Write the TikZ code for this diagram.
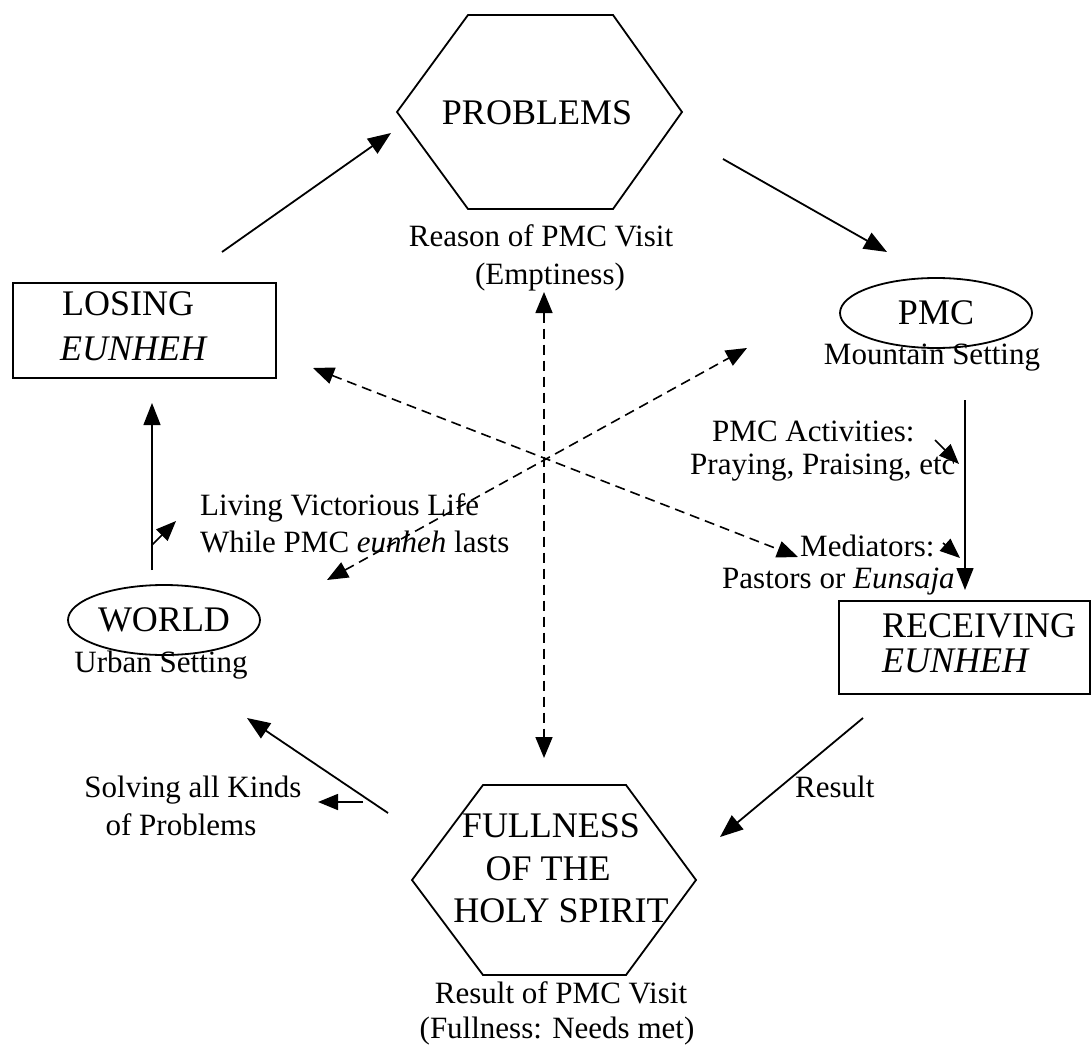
\documentclass[tikz,border=0pt]{standalone}
\usepackage{fontspec}
\setmainfont{Liberation Serif}
\usetikzlibrary{arrows.meta,shapes.geometric}
\begin{document}
\begin{tikzpicture}[x=1pt,y=-1pt,
  big/.style={font=\fontsize{36}{40}\selectfont, inner sep=0pt},
  small/.style={font=\fontsize{31}{35}\selectfont, inner sep=0pt},
  shapeline/.style={line width=1.8pt, line join=miter},
  conn/.style={line width=1.8pt, -{Triangle[length=23pt,width=18pt]}},
  thinconn/.style={line width=1.3pt, -{Triangle[length=22pt,width=17pt]}},
  shortconn/.style={line width=1.6pt, -{Triangle[length=20pt,width=16pt]}},
  dconn/.style={line width=1.6pt, dash pattern=on 10pt off 6pt,
    {Triangle[length=21pt,width=17pt]}-{Triangle[length=21pt,width=17pt]}},
]
\fill[white] (0,0) rectangle (1091,1048);
\useasboundingbox (0,0) rectangle (1091,1048);

% ---- PROBLEMS hexagon
\draw[shapeline] (397,112) -- (468,15) -- (613,15) -- (682,112) -- (613,209) -- (468,209) -- cycle;
\node[big, anchor=base] (problems) at (537,125) {PROBLEMS};
\node[small, anchor=base] (reason1) at (541,247) {Reason of PMC Visit};
\node[small, anchor=base] (reason2) at (550,284) {(Emptiness)};

% ---- FULLNESS hexagon
\draw[shapeline] (412,880) -- (483,785) -- (626,785) -- (696,880) -- (626,975) -- (483,975) -- cycle;
\node[big, anchor=base] (full1) at (551,837) {FULLNESS};
\node[big, anchor=base] (full2) at (548,880) {OF THE};
\node[big, anchor=base] (full3) at (561,922) {HOLY SPIRIT};
\node[small, anchor=base] (result1) at (561,1003) {Result of PMC Visit};
\node[small, anchor=base] (result2) at (557,1038) {(Fullness: Needs met)};

% ---- PMC ellipse
\node[draw, ellipse, shapeline, minimum width=192pt, minimum height=70pt, inner sep=0pt,
  font=\fontsize{36}{40}\selectfont] (pmc) at (936,313) {PMC};
\node[small, anchor=base] (mountain) at (932,364) {Mountain Setting};

% ---- WORLD ellipse
\node[draw, ellipse, shapeline, minimum width=192pt, minimum height=70pt, inner sep=0pt,
  font=\fontsize{36}{40}\selectfont] (world) at (164,620) {WORLD};
\node[small, anchor=base] (urban) at (161,672) {Urban Setting};

% ---- LOSING box
\node[draw, shapeline, minimum width=263pt, minimum height=95pt, inner sep=0pt,
  anchor=north west] (losing) at (12,282) {};
\node[big, anchor=base west] (losing1) at (62,316) {LOSING};
\node[big, anchor=base west] (losing2) at (60,360) {\itshape EUNHEH};

% ---- RECEIVING box
\node[draw, shapeline, minimum width=251pt, minimum height=93pt, inner sep=0pt,
  anchor=north west] (receiving) at (838,600) {};
\node[big, anchor=base west] (receiving1) at (882,637) {RECEIVING};
\node[big, anchor=base west] (receiving2) at (882,672) {\itshape EUNHEH};

% ---- side labels
\node[small, anchor=base west] (act1) at (712,441) {PMC Activities:};
\node[small, anchor=base west] (act2) at (690,474) {Praying, Praising, etc};
\node[small, anchor=base west] (med1) at (800,556) {Mediators:};
\node[small, anchor=base west] (med2) at (722,588) {Pastors or \textit{Eunsaja}};
\node[small, anchor=base west] (reslabel) at (795,797) {Result};
\node[small, anchor=base west] (living1) at (200,515) {Living Victorious Life};
\node[small, anchor=base west] (living2) at (200,552) {While PMC \textit{eunheh} lasts};
\node[small, anchor=base] (solving1) at (193,797) {Solving all Kinds};
\node[small, anchor=base] (solving2) at (181,835) {of Problems};

% ---- connector end points
\coordinate (lpA) at (222,252);  \coordinate (lpB) at (391,133);
\coordinate (ppA) at (723,159);  \coordinate (ppB) at (887,252);
\coordinate (prA) at (965,400);  \coordinate (prB) at (965,590);
\coordinate (acA) at (935,440);  \coordinate (acB) at (959,464);
\coordinate (meA) at (943,543);  \coordinate (meB) at (960,558);
\coordinate (rfA) at (863,718);  \coordinate (rfB) at (720,837);
\coordinate (fwA) at (388,813);  \coordinate (fwB) at (247,718);
\coordinate (soA) at (363,802);  \coordinate (soB) at (318,802);
\coordinate (wlA) at (152,570);  \coordinate (wlB) at (152,403);
\coordinate (liA) at (152,545);  \coordinate (liB) at (176,521);
\coordinate (d1A) at (313,368);  \coordinate (d1B) at (798,557);
\coordinate (d2A) at (327,580);  \coordinate (d2B) at (747,348);
\coordinate (d3A) at (544,292);  \coordinate (d3B) at (544,758);

% ---- connectors
\draw[conn] (lpA) -- (lpB);
\draw[conn] (ppA) -- (ppB);
\draw[thinconn] (prA) -- (prB);
\draw[shortconn] (acA) -- (acB);
\draw[shortconn] (meA) -- (meB);
\draw[conn] (rfA) -- (rfB);
\draw[conn] (fwA) -- (fwB);
\draw[shortconn] (soA) -- (soB);
\draw[thinconn] (wlA) -- (wlB);
\draw[shortconn] (liA) -- (liB);
\draw[dconn] (d1A) -- (d1B);
\draw[dconn] (d2A) -- (d2B);
\draw[dconn] (d3A) -- (d3B);
\end{tikzpicture}
\end{document}
